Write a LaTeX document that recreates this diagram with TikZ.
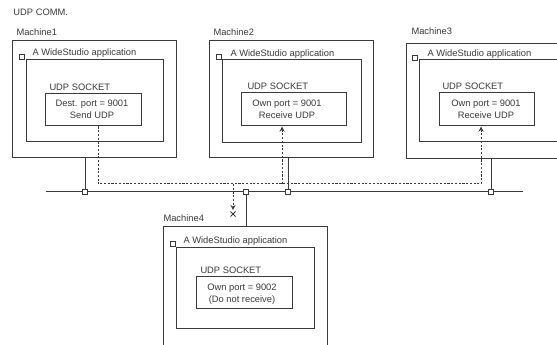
\documentclass[tikz,border=0pt]{standalone}
\usepackage{fontspec}
\setmainfont{Liberation Sans}
\usetikzlibrary{arrows, fit, shapes.misc}
\definecolor{ink}{HTML}{3A3A3A}

\begin{document}
\begin{tikzpicture}[
            x = 0.75pt, y = -0.75pt, % one unit = one pixel, y downwards
            > = stealth, % arrow head style
            line width = 0.75pt,
            draw = ink,
            font = \fontsize{7}{9}\selectfont
        ]

        \tikzstyle{box}=[
            draw = ink,
            inner sep = 0pt
        ]
        \tikzstyle{port}=[
            draw = ink,
            fill = white,
            inner sep = 0pt,
            minimum size = 3.8pt
        ]
        \tikzstyle{caption}=[
            text = ink,
            anchor = west,
            inner sep = 0pt
        ]
        \tikzstyle{flow}=[
            draw = ink,
            dash pattern = on 1.6pt off 1.2pt
        ]

        \useasboundingbox (0,0) rectangle (557,345);
        \clip (0,0) rectangle (557,345);

        \node[caption] (title) at (13,12) {UDP COMM.};

        % Machine1
        \node[caption] (n1) at (16,32) {Machine1};
        \node[box, fit={(12,41) (176,158)}] (m1) {};
        \node[box, fit={(26,60) (163,142)}] (a1) {};
        \node[port] (q1) at (22,57) {};
        \node[caption] (l1) at (32,53) {A WideStudio application};
        \node[caption] (k1) at (49,87) {UDP SOCKET};
        \node[box, fit={(45,94) (141,126)}] (s1) {};
        \node[text = ink, align = center] (c1) at (92,109) {Dest. port = 9001\\Send UDP};

        % Machine2
        \node[caption] (n2) at (213,32) {Machine2};
        \node[box, fit={(209,41) (373,158)}] (m2) {};
        \node[box, fit={(222,60) (361,143)}] (a2) {};
        \node[port] (q2) at (219,57) {};
        \node[caption] (l2) at (230,54) {A WideStudio application};
        \node[caption] (k2) at (247,86) {UDP SOCKET};
        \node[box, fit={(241,93) (346,126)}] (s2) {};
        \node[text = ink, align = center] (c2) at (287,109) {Own port = 9001\\Receive UDP};

        % Machine3
        \node[caption] (n3) at (411,31) {Machine3};
        \node[box, fit={(406,44) (575,159)}] (m3) {};
        \node[box, fit={(419,60) (568,142)}] (a3) {};
        \node[port] (q3) at (415,58) {};
        \node[caption] (l3) at (427,54) {A WideStudio application};
        \node[caption] (k3) at (442,86) {UDP SOCKET};
        \node[box, fit={(439,93) (534,126)}] (s3) {};
        \node[text = ink, align = center] (c3) at (486,109) {Own port = 9001\\Receive UDP};

        % Machine4
        \node[caption] (n4) at (163,218) {Machine4};
        \node[box, fit={(163,227) (327,360)}] (m4) {};
        \node[box, fit={(176,248) (314,329)}] (a4) {};
        \node[port] (q4) at (173,244) {};
        \node[caption] (l4) at (183,241) {A WideStudio application};
        \node[caption] (k4) at (200,270) {UDP SOCKET};
        \node[box, fit={(196,277) (292,309)}] (s4) {};
        \node[text = ink, align = center] (c4) at (242,294) {Own port = 9002\\(Do not receive)};

        % network
        \coordinate (busL) at (46,192);
        \coordinate (busR) at (523,192);
        \node[port] (p1) at (85,192) {};
        \node[port] (p4) at (246,192) {};
        \node[port] (p2) at (288,192) {};
        \node[port] (p3) at (491,192) {};

        \draw (busL) -- (p1) -- (p4) -- (p2) -- (p3) -- (busR);
        \draw (m1.south -| p1) -- (p1);
        \draw (m2.south -| p2) -- (p2);
        \draw (m3.south -| p3) -- (p3);
        \draw (p4) -- (m4.north -| p4);

        % UDP packets
        \coordinate (d1) at (98,184);
        \coordinate (d2) at (282,184);
        \coordinate (d3) at (481,184);
        \coordinate (d4) at (233,184);
        \node[draw = ink, cross out, inner sep = 0pt, minimum size = 3pt] (lost) at (233,214) {};

        \draw[flow] (s1.south -| d1) -- (d1) -- (d3);
        \draw[flow, ->] (d3) -- (s3.south -| d3);
        \draw[flow, ->] (d2) -- (s2.south -| d2);
        \draw[flow, ->, shorten > = 1pt] (d4) -- (lost);
    \end{tikzpicture}
\end{document}
